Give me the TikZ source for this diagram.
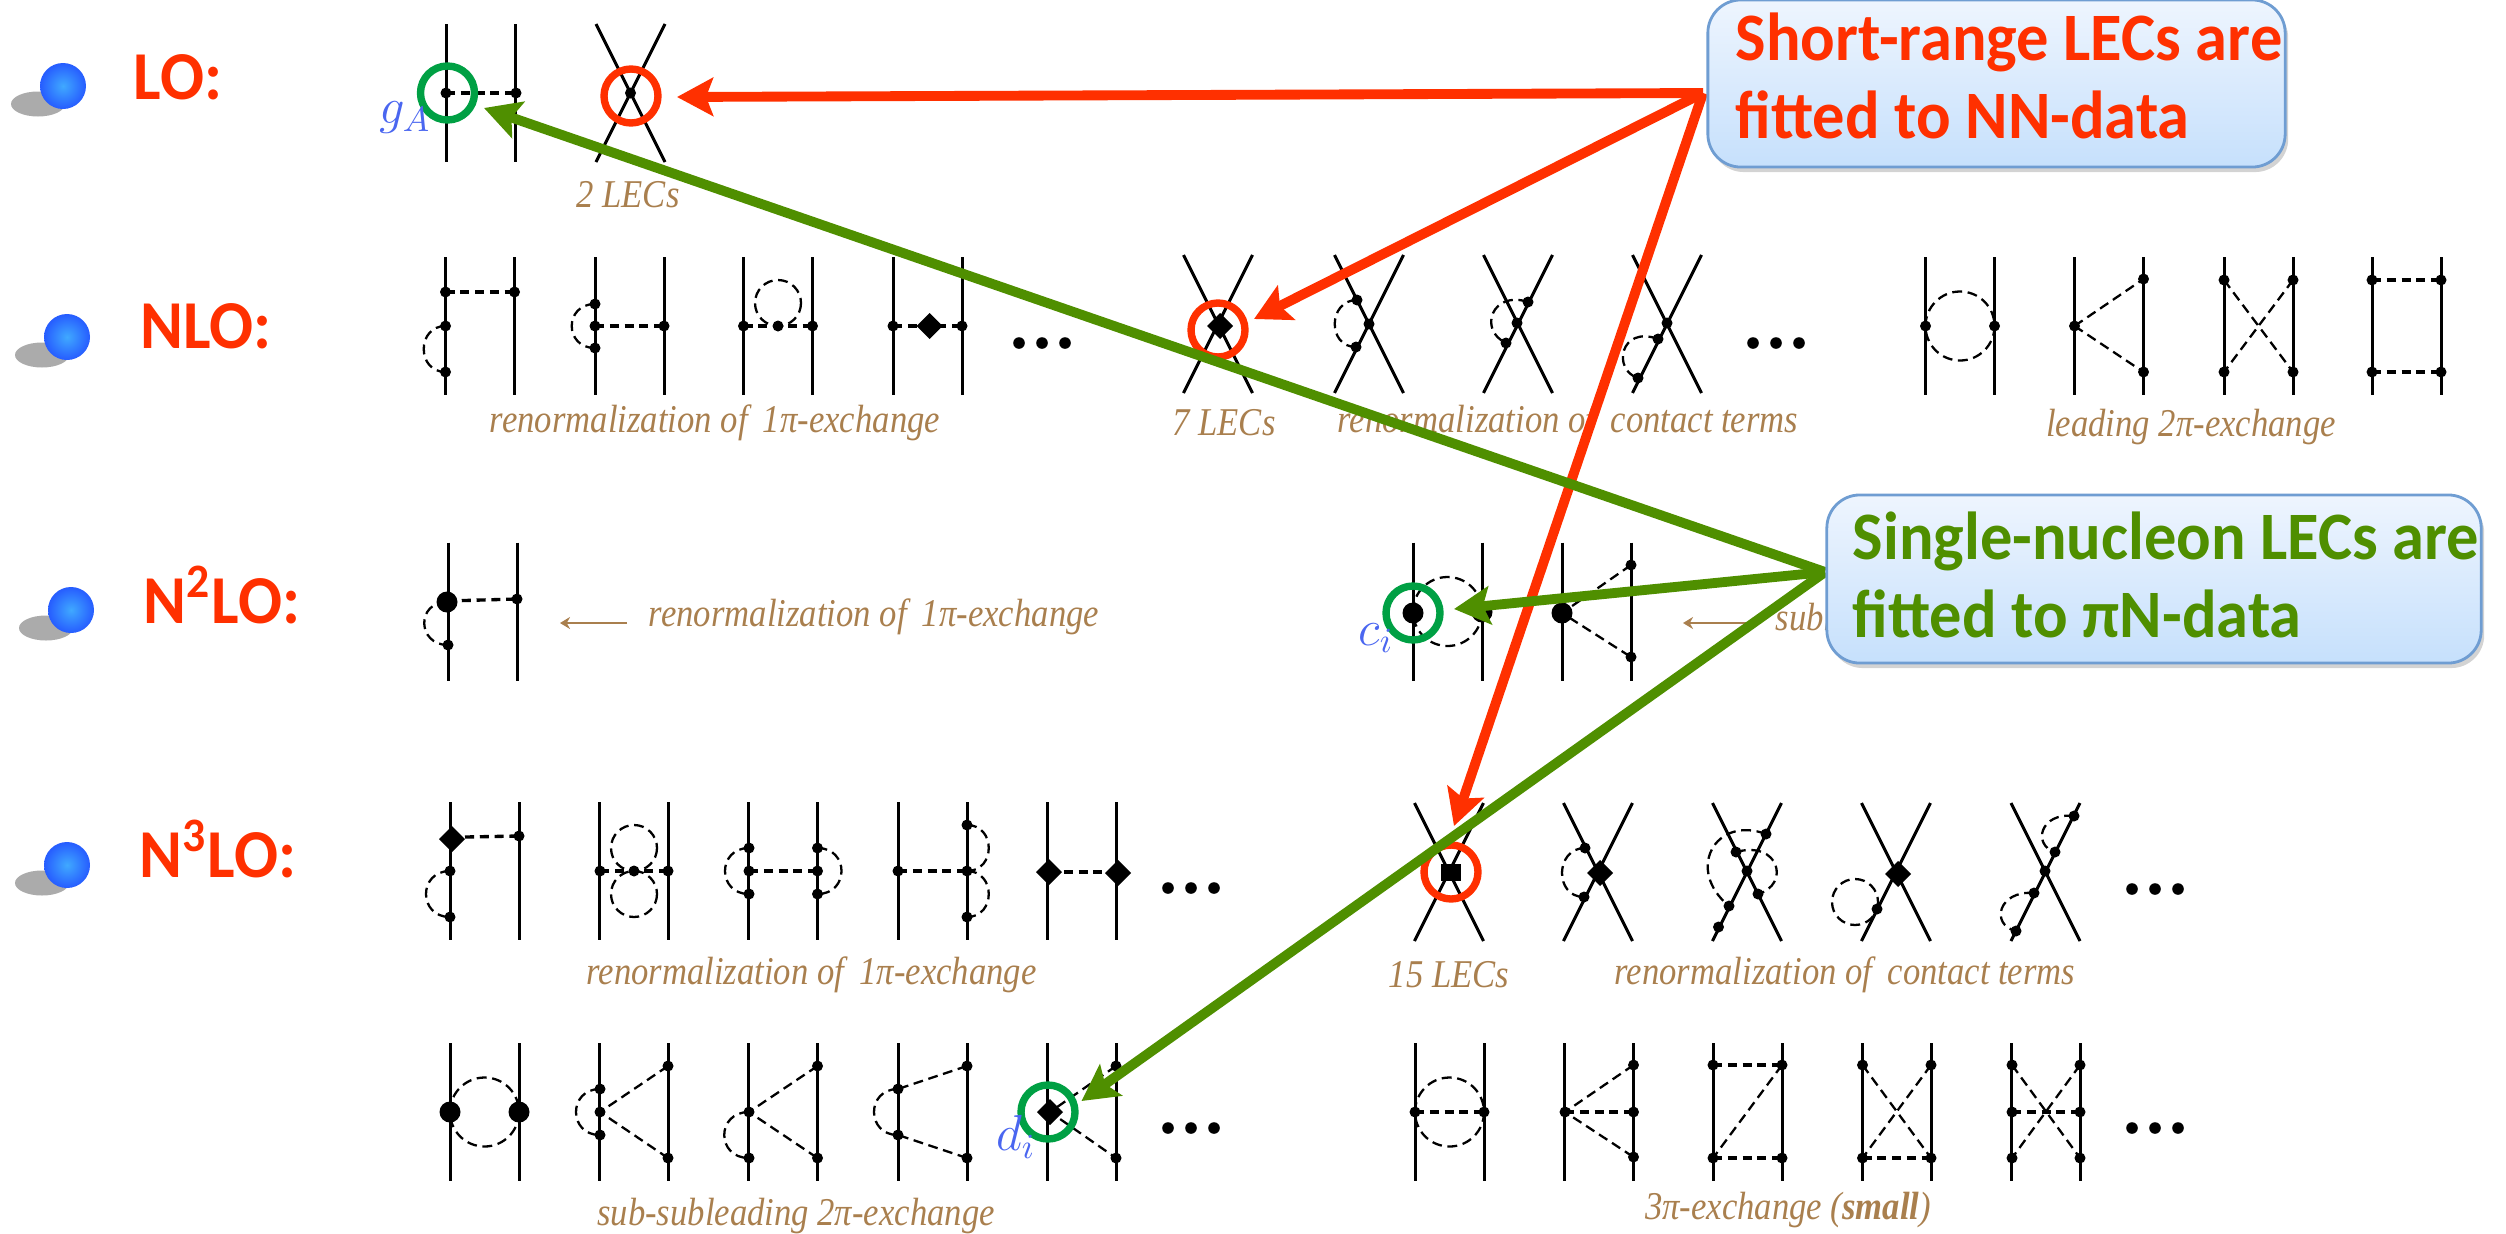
\documentclass[tikz,border=0pt]{standalone}
\usepackage{amsmath, amssymb}
\usepackage{fontspec}
\usepackage{xcolor}
\usepackage{tikz}
\usetikzlibrary{arrows.meta, shadows, shapes.geometric}

\newfontfamily\calloutfont[FakeStretch=0.95]{Carlito}
\newfontfamily\capfont[FakeStretch=0.88]{Liberation Serif}

\definecolor{ordred}{HTML}{FF3000}
\definecolor{fitgreen}{HTML}{4F8F00}
\definecolor{ringgreen}{HTML}{00A044}
\definecolor{capbrown}{HTML}{A97F4E}
\definecolor{lecblue}{HTML}{4A66F0}
\definecolor{boxedge}{HTML}{6F9DD2}
\definecolor{boxtop}{HTML}{EEF5FE}
\definecolor{boxbottom}{HTML}{C6E0FC}

\tikzset{
    nucleon/.style={line width=0.85pt},
    pion/.style={line width=0.95pt, dash pattern=on 2.6pt off 1.6pt},
    pionthin/.style={line width=0.65pt, dash pattern=on 2.8pt off 1.6pt},
    ring/.style={line width=2.1pt},
    fitarrow/.style={line width=2.8pt, -{Stealth[length=0.36cm, width=0.38cm, inset=0.07cm]}},
    thinarrow/.style={capbrown, line width=0.6pt, -{Stealth[length=0.1cm, width=0.12cm]}},
    caplabel/.style={capbrown, font=\capfont\fontsize{11.2}{13}\selectfont\itshape, inner sep=0pt},
    order/.style={ordred, font=\calloutfont\bfseries\fontsize{19.5}{23}\selectfont, inner sep=0pt},
    lec/.style={lecblue, font=\Large, inner sep=0pt},
    callout/.style={draw=boxedge, line width=0.8pt, rounded corners=0.33cm, top color=boxtop,
        bottom color=boxbottom, drop shadow={shadow xshift=0.3mm, shadow yshift=-0.5mm, opacity=0.35}},
    callouttext/.style={font=\calloutfont\bfseries\fontsize{19.3}{21.9}\selectfont, align=left, inner sep=0pt, anchor=base west}
}

% two nucleon lines and the contact cross, by centre
\newcommand{\nnpair}[2]{\draw[nucleon] (#1-34.5,#2-69) -- (#1-34.5,#2+69) (#1+34.5,#2-69) -- (#1+34.5,#2+69);}
\newcommand{\nncross}[2]{\draw[nucleon] (#1-34.5,#2-69) -- (#1+34.5,#2+69) (#1+34.5,#2-69) -- (#1-34.5,#2+69);}
% vertices
\newcommand{\vtx}[1]{\foreach \x/\y in {#1} {\fill (\x,\y) circle (5.5);}}
\newcommand{\bigvtx}[1]{\foreach \x/\y in {#1} {\fill (\x,\y) circle (10.5);}}
\newcommand{\dia}[1]{\foreach \x/\y in {#1} {\fill (\x-13,\y) -- (\x,\y-13) -- (\x+13,\y) -- (\x,\y+13) -- cycle;}}
% pion arc from (#1,#2) to (#3,#4), control points pushed sideways by #5
\newcommand{\pionloop}[5]{\draw[pionthin] (#1,#2) .. controls (#1+#5,#2) and (#3+#5,#4) .. (#3,#4);}
\newcommand{\threedots}[1]{\foreach \x/\y in {#1} {\fill (\x,\y) circle (5.8); \fill (\x+23,\y) circle (5.8); \fill (\x+46,\y) circle (5.8);}}
\newcommand{\bullball}[2]{
    \fill[black!33] (#1-25,#2+18) ellipse (27 and 12.5);
    \shade[inner color=blue!45!cyan!75!white, outer color=blue!75!cyan!85!white] (#1,#2) circle (23);
}

\begin{document}
\begin{tikzpicture}[x=0.01cm, y=-0.01cm]

    \useasboundingbox (0,0) rectangle (2506,1233);

    % =================================================================
    % 1. ORDER LABELS AND BALLS
    % =================================================================
    \bullball{63}{86}
    \bullball{67}{337}
    \bullball{71}{610}
    \bullball{67}{865}

    \node[order] (lblLO) at (178,77) {LO:};
    \node[order] (lblNLO) at (206,326) {NLO:};
    \node[order] (lblNNLO) at (222,595) {N\textsuperscript{2}LO:};
    \node[order] (lblNNNLO) at (218,849) {N\textsuperscript{3}LO:};

    % =================================================================
    % 2. LO ROW
    % =================================================================
    \nnpair{481}{93}
    \nncross{630.5}{93}
    \draw[pion] (446,93) -- (516,93);
    \vtx{446/93, 516/93, 630.5/93}

    % =================================================================
    % 3. NLO ROW
    % =================================================================
    \foreach \cx in {480,629.5,778,927.5,1960,2109,2258.5,2406.5} {\nnpair{\cx}{326}}
    \foreach \cx in {1218,1369,1518,1667} {\nncross{\cx}{324}}

    % renormalization of the one-pion line
    \draw[pion] (445.5,292) -- (514.5,292);
    \vtx{445.5/292, 514.5/292, 445.5/326, 445.5/372}
    \pionloop{445.5}{326}{445.5}{372}{-29}
    \draw[pion] (595,326) -- (664,326);
    \vtx{595/304, 595/326, 595/348, 664/326}
    \pionloop{595}{304}{595}{348}{-31}
    \draw[pion] (743.5,326) -- (812.5,326);
    \vtx{743.5/326, 778/326, 812.5/326}
    \draw[pionthin] (778,303) circle (23);
    \draw[pion] (893,326) -- (962,326);
    \vtx{893/326, 962/326}
    \dia{929.5/326}
    \threedots{1019/343}

    % contact terms
    \dia{1220/326}
    \vtx{1357/300, 1369/324, 1356/347}
    \pionloop{1357}{300}{1356}{347}{-29}
    \vtx{1528/302, 1517/323, 1506/343}
    \draw[pionthin] (1528,302) .. controls (1492,290) and (1478,330) .. (1506,343);
    \vtx{1667/323, 1658/339, 1638/378}
    \draw[pionthin] (1658,339) .. controls (1620,325) and (1612,370) .. (1638,378);
    \threedots{1753/343}

    % leading two-pion exchange
    \draw[pionthin] (1960,326) ellipse (34.5 and 34.5);
    \vtx{1925.5/326, 1994.5/326}
    \draw[pionthin] (2074.5,326) -- (2143.5,279) (2074.5,326) -- (2143.5,372);
    \vtx{2074.5/326, 2143.5/279, 2143.5/372}
    \draw[pionthin] (2224,280) -- (2293,372) (2293,280) -- (2224,372);
    \vtx{2224/280, 2293/280, 2224/372, 2293/372}
    \draw[pion] (2372,280) -- (2441,280) (2372,372) -- (2441,372);
    \vtx{2372/280, 2441/280, 2372/372, 2441/372}

    \node[caplabel] (capNLOa) at (715,423) {renormalization of\, 1π-exchange};
    \node[caplabel] (capNLOb) at (1224,423) {7 LECs};
    \node[caplabel] (capNLOc) at (1568,423) {renormalization of\, contact terms};
    \node[caplabel] (capNLOd) at (2191,427) {leading 2π-exchange};
    \node[caplabel] (capLO) at (628,195) {2 LECs};

    % =================================================================
    % 4. N2LO ROW
    % =================================================================
    \nnpair{483}{611.5}
    \draw[pion] (447,601) -- (517,599);
    \bigvtx{447/602}
    \vtx{517/599, 448/645}
    \pionloop{447}{602}{448}{645}{-31}

    \nnpair{1447.5}{611.5}
    \draw[pionthin] (1447.5,611.5) circle (34.5);
    \bigvtx{1413/613, 1482/612}
    \nnpair{1596.5}{611.5}
    \draw[pionthin] (1631,565) -- (1562,613) -- (1631,657);
    \bigvtx{1562/613}
    \vtx{1631/565, 1631/657}

    \coordinate (capstartA) at (627,623);
    \coordinate (capendA) at (560,623);
    \draw[thinarrow] (capstartA) -- (capendA);
    \coordinate (capstartB) at (1748,623);
    \coordinate (capendB) at (1683,623);
    \draw[thinarrow] (capstartB) -- (capendB);
    \node[caplabel] (capNNLOa) at (874,617) {renormalization of\, 1π-exchange};
    \node[caplabel, anchor=west] (capNNLOb) at (1775,617) {subl};

    % =================================================================
    % 5. N3LO, FIRST ROW
    % =================================================================
    \foreach \cx in {484.5,634,783,932.5,1081.5} {\nnpair{\cx}{871}}
    \foreach \cx in {1449,1598,1747,1896,2045.5} {\nncross{\cx}{872}}

    \draw[pion] (465,837) -- (519,836);
    \dia{452/839}
    \vtx{519/836, 450/871, 450/917}
    \pionloop{450}{871}{450}{917}{-32}

    \draw[pion] (600,871) -- (668,871);
    \vtx{600/871, 634/871, 668/871}
    \draw[pionthin] (634,848) ellipse (23 and 23);
    \draw[pionthin] (634,894) ellipse (23 and 23);

    \draw[pion] (749,871) -- (817.5,871);
    \vtx{749/848, 749/871, 749/894, 817.5/848, 817.5/871, 817.5/894}
    \pionloop{749}{848}{749}{894}{-32}
    \pionloop{817.5}{848}{817.5}{894}{32}

    \draw[pion] (898,871) -- (967,871);
    \vtx{898/871, 967/871, 967/825, 967/917}
    \pionloop{967}{825}{967}{871}{29}
    \pionloop{967}{871}{967}{917}{29}

    \draw[pion] (1049,872) -- (1118,872);
    \dia{1049/872, 1118/873}
    \threedots{1168/888}

    \fill (1441,864) rectangle (1461,881);

    \dia{1600/873}
    \vtx{1585/848, 1584/897}
    \pionloop{1585}{848}{1584}{897}{-30}

    \vtx{1747/871, 1766/834, 1736/852, 1758/894, 1729/906, 1718.5/927}
    \draw[pionthin] (1766,834) .. controls (1715,815) and (1685,870) .. (1729,906);
    \draw[pionthin] (1736,852) .. controls (1780,840) and (1790,885) .. (1758,894);

    \dia{1898/874}
    \vtx{1877/909}
    \draw[pionthin] (1855,902) circle (23);

    \vtx{2045/871, 2074/816, 2055/852, 2034/893, 2016/931}
    \draw[pionthin] (2074,816) .. controls (2040,812) and (2032,845) .. (2055,852);
    \draw[pionthin] (2034,893) .. controls (1998,890) and (1990,925) .. (2016,931);
    \threedots{2132/889}

    \node[caplabel] (capNNNLOa) at (811.5,975) {renormalization of\, 1π-exchange};
    \node[caplabel] (capNNNLOb) at (1449,975) {15 LECs};
    \node[caplabel] (capNNNLOc) at (1845,975) {renormalization of\, contact terms};

    % =================================================================
    % 6. N3LO, SECOND ROW
    % =================================================================
    \foreach \cx in {484.5,634,783,932.5,1082,1449.5,1599,1747.5,1897,2046} {\nnpair{\cx}{1112}}

    \draw[pionthin] (484.5,1112) circle (34.5);
    \bigvtx{450/1112, 519/1112}

    \draw[pionthin] (668,1066) -- (600,1112) -- (668,1158);
    \vtx{600/1089, 600/1112, 600/1135, 668/1066, 668/1158}
    \pionloop{600}{1089}{600}{1135}{-32}

    \draw[pionthin] (817.5,1066) -- (749,1112) -- (817.5,1158);
    \vtx{749/1112, 817.5/1066, 817.5/1158, 749/1158}
    \pionloop{749}{1112}{749}{1158}{-33}

    \draw[pionthin] (967,1066) -- (898,1089) (967,1158) -- (898,1135);
    \vtx{898/1089, 898/1135, 967/1066, 967/1158}
    \pionloop{898}{1089}{898}{1135}{-32}

    \draw[pionthin] (1116,1066) -- (1050,1112) -- (1116,1158);
    \dia{1050/1112}
    \vtx{1116/1066, 1116/1158}
    \threedots{1168/1128}

    \draw[pion] (1415,1112) -- (1484,1112);
    \draw[pionthin] (1449.5,1112) circle (34.5);
    \vtx{1415/1112, 1484/1112}

    \draw[pionthin] (1633.5,1065) -- (1565,1112) -- (1633.5,1157);
    \draw[pion] (1565,1112) -- (1633.5,1112);
    \vtx{1565/1112, 1633.5/1065, 1633.5/1112, 1633.5/1157}

    \draw[pion] (1713,1065) -- (1782,1065) (1713,1158) -- (1782,1158);
    \draw[pionthin] (1782,1065) -- (1713,1158);
    \vtx{1713/1065, 1782/1065, 1713/1158, 1782/1158}

    \draw[pionthin] (1862.5,1065) -- (1931,1158) (1931,1065) -- (1862.5,1158);
    \draw[pion] (1862.5,1158) -- (1931,1158);
    \vtx{1862.5/1065, 1931/1065, 1862.5/1158, 1931/1158}

    \draw[pionthin] (2012,1065) -- (2080,1158) (2080,1065) -- (2012,1158);
    \draw[pion] (2012,1112) -- (2080,1112);
    \vtx{2012/1065, 2080/1065, 2012/1112, 2080/1112, 2012/1158, 2080/1158}
    \threedots{2132/1128}

    \node[caplabel] (capBotA) at (796,1216) {sub-subleading 2π-exchange};
    \node[caplabel] (capBotB) at (1788,1210) {3π-exchange (\textbf{small})};

    % =================================================================
    % 7. RINGS AND THE LEC NAMES
    % =================================================================
    \draw[ring, ringgreen] (447.5,93) circle (27);
    \draw[ring, ringgreen] (1413,613) circle (27);
    \draw[ring, ringgreen] (1048,1112) circle (27);
    \draw[ring, ordred] (631,96) circle (27);
    \draw[ring, ordred] (1218,330) circle (27);
    \draw[ring, ordred] (1451,872) circle (27);

    \node[lec] (lecgA) at (405,118) {$g_A$};
    \node[lec] (lecci) at (1376,638) {$c_i$};
    \node[lec] (lecdi) at (1016,1137) {$d_i$};

    % =================================================================
    % 8. ARROWS AND CALLOUTS
    % =================================================================
    \coordinate (redfit) at (1703,93);
    \coordinate (greenfit) at (1825,572);
    \coordinate (tipLO) at (677,97);
    \coordinate (tipNLO) at (1254,319);
    \coordinate (tipNNNLO) at (1454,826);
    \coordinate (tipgA) at (484,108);
    \coordinate (tipci) at (1454,609);
    \coordinate (tipdi) at (1081.5,1101);

    \draw[fitarrow, ordred] (redfit) -- (tipNNNLO);
    \draw[fitarrow, ordred] (redfit) -- (tipLO);
    \draw[fitarrow, ordred] (redfit) -- (tipNLO);
    \draw[fitarrow, fitgreen] (greenfit) -- (tipgA);
    \draw[fitarrow, fitgreen] (greenfit) -- (tipci);
    \draw[fitarrow, fitgreen] (greenfit) -- (tipdi);

    \node[callout, minimum width=5.77cm, minimum height=1.67cm] (shortbox) at (1996.5,83.5) {};
    \node[callouttext, ordred] (shorttext) at (1735,138) {Short-range LECs are\\fitted to NN-data};
    \node[callout, minimum width=6.54cm, minimum height=1.68cm] (singlebox) at (2154,579) {};
    \node[callouttext, fitgreen] (singletext) at (1852,637) {Single-nucleon LECs are\\fitted to πN-data};

\end{tikzpicture}
\end{document}
